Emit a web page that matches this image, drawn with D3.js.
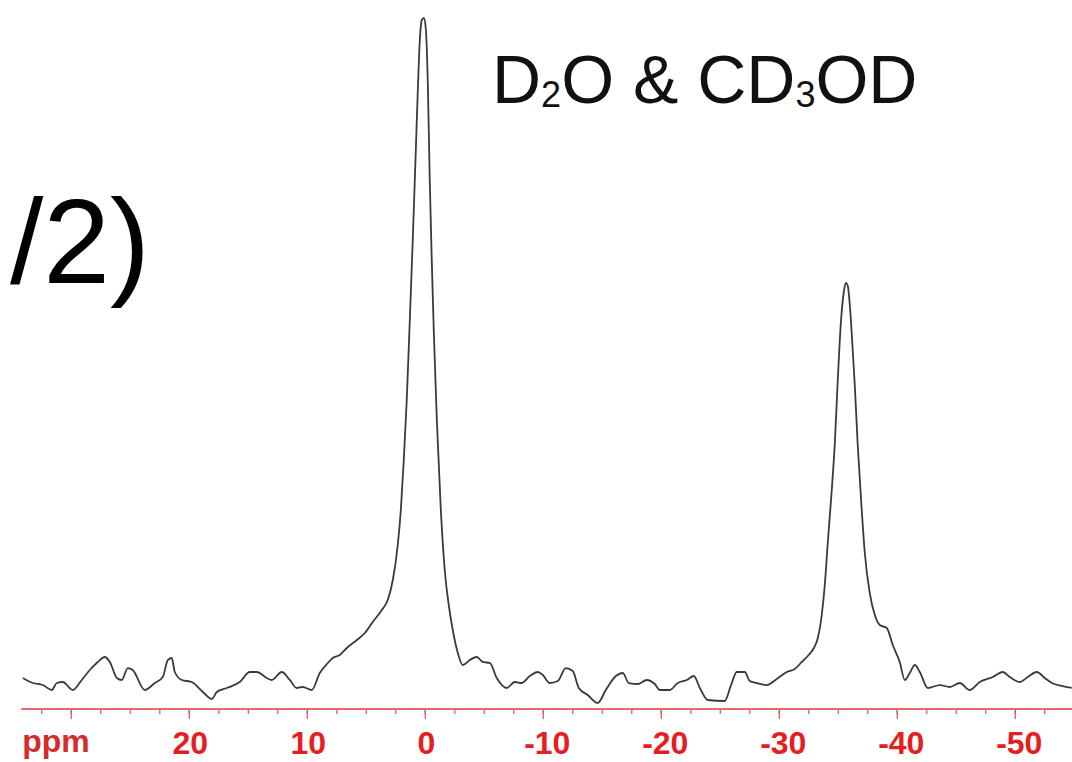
<!DOCTYPE html>
<html>
<head>
<meta charset="utf-8">
<script src="https://cdn.jsdelivr.net/npm/d3@7"></script>
<style>
    body { margin: 0; background: #fff; }
    svg { display: block; }
    .trace { fill: none; stroke: #3a3a3a; stroke-width: 1.8px; stroke-linejoin: round; }
    .axis text { font-family: "Liberation Sans", Arial, sans-serif; font-weight: bold; font-size: 32px; fill: #e3201f; }
    .axis line { stroke: #e25a5c; stroke-width: 1.3px; }
</style>
</head>
<body>
<script>
(function(){

    // chemical shift (ppm) and relative intensity
    var ppm = [34.07, 33.22, 32.37, 31.61, 31.19, 30.68, 29.83, 29.07, 28.39, 27.71,
        27.12, 26.69, 26.10, 25.68, 25.17, 24.75, 23.73, 22.88, 22.20, 21.78,
        21.44, 21.19, 20.59, 19.75, 18.81, 18.05, 17.63, 16.78, 15.68, 14.83,
        14.24, 13.39, 12.97, 12.12, 11.44, 10.85, 10.34, 9.58, 8.90, 8.22,
        7.80, 7.20, 6.61, 5.76, 5.08, 4.41, 3.64, 3.14, 2.71, 2.29,
        2.03, 1.78, 1.53, 1.27, 1.02, 0.76, 0.59, 0.42, 0.25, 0.08,
        -0.08, -0.25, -0.42, -0.59, -0.76, -1.02, -1.36, -1.69, -2.03, -2.37,
        -2.80, -3.22, -3.81, -4.41, -4.92, -5.51, -6.10, -6.95, -7.63, -8.22,
        -8.90, -9.58, -10.00, -10.59, -11.27, -11.95, -12.54, -13.05, -13.81, -14.66,
        -15.34, -16.19, -16.78, -17.29, -18.05, -18.81, -19.49, -19.92, -20.76, -21.44,
        -22.20, -22.80, -23.31, -23.98, -25.42, -25.93, -26.44, -27.12, -27.54, -28.14,
        -28.98, -29.83, -30.68, -31.36, -31.95, -32.46, -32.97, -33.31, -33.64, -33.90,
        -34.15, -34.49, -34.75, -35.00, -35.25, -35.51, -35.68, -35.85, -36.02, -36.19,
        -36.44, -36.69, -37.03, -37.29, -37.71, -38.14, -38.56, -39.15, -39.66, -40.25,
        -40.68, -41.10, -41.53, -41.95, -42.63, -43.64, -44.49, -45.34, -46.19, -47.03,
        -48.14, -48.98, -49.58, -50.42, -51.10, -51.86, -52.54, -53.14, -53.98, -54.83];

    var intensity = [1.79, 1.04, 0.74, 0, 1.04, 1.19, 0, 1.49, 2.98, 4.17,
        4.91, 4.17, 1.79, 1.49, 3.27, 2.98, 0, 1.04, 1.93, 4.46,
        4.76, 2.68, 1.49, 1.19, -0.30, -1.34, -0.30, 0.30, 1.19, 2.68,
        2.68, 1.79, 1.49, 2.68, 1.49, 0.30, 0.45, 0, 2.53, 4.02,
        4.76, 5.21, 6.25, 7.44, 8.48, 10.12, 11.90, 13.39, 16.37, 21.58,
        26.79, 34.23, 43.15, 55.06, 66.96, 80.36, 89.29, 96.73, 99.70, 100,
        98.51, 90.77, 75.89, 63.99, 53.57, 40.18, 26.79, 17.86, 12.65, 8.93,
        5.51, 3.72, 4.46, 4.91, 4.17, 4.02, 1.79, 0.30, 1.19, 1.04,
        2.08, 2.68, 2.23, 1.04, 1.34, 3.27, 2.83, 0.30, -0.74, -1.93,
        0, 2.08, 2.53, 1.04, 0.89, 1.49, 0.89, 0, 0, 1.04,
        1.49, 2.08, 0.30, -1.49, -1.64, 0.60, 2.68, 2.68, 1.34, 1.04,
        0.74, 1.64, 2.68, 3.13, 4.17, 5.06, 6.25, 7.74, 11.16, 15.63,
        21.88, 29.76, 36.76, 46.13, 54.32, 59.23, 60.57, 60.12, 57.29, 52.83,
        45.39, 36.46, 26.79, 20.39, 14.43, 11.16, 9.67, 9.23, 6.70, 4.17,
        1.49, 2.53, 3.72, 2.68, 0.30, 0.74, 0.45, 1.04, 0, 1.19,
        1.93, 2.68, 1.93, 1.19, 1.93, 2.68, 1.79, 1.04, 0.60, 0.30];

    var majorTicks = [30, 20, 10, 0, -10, -20, -30, -40, -50];
    var minorTicks = d3.range(32.5, -55.1, -2.5);
    var axisStart = 34.2;

    window.onload = setChart();

    function setChart(){

        var width = 1072,
            height = 762;

        var svg = d3.select("body")
            .append("svg")
            .attr("width", width)
            .attr("height", height);

        var x = d3.scaleLinear()
            .domain([36, -54.85])
            .range([0, width]);

        var y = d3.scaleLinear()
            .domain([0, 100])
            .range([690, 18]);

        var axisY = 709;

        setAxis(svg, x, axisY, width);
        setTrace(svg, x, y);
        setLabels(svg);
    };

    function setAxis(svg, x, axisY, width){

        var minorAxis = d3.axisBottom(x)
            .tickValues(minorTicks)
            .tickSize(5)
            .tickFormat("");

        var majorAxis = d3.axisBottom(x)
            .tickValues(majorTicks)
            .tickSize(10)
            .tickFormat(function(d){
                return d == 30 ? "" : String(d);
            });

        var gMinor = svg.append("g")
            .attr("class", "axis")
            .attr("transform", "translate(0," + axisY + ")")
            .call(minorAxis);

        var gMajor = svg.append("g")
            .attr("class", "axis")
            .attr("transform", "translate(0," + axisY + ")")
            .call(majorAxis);

        svg.selectAll(".axis .domain").remove();

        gMajor.selectAll("text")
            .attr("y", 45)
            .attr("dy", 0)
            .attr("dx", function(d){
                return d < 0 ? 4 : 1;
            });

        // main axis line
        svg.append("line")
            .attr("x1", x(axisStart))
            .attr("x2", width)
            .attr("y1", axisY)
            .attr("y2", axisY)
            .style("stroke", "#e8696b")
            .style("stroke-width", "2.2px");

        svg.append("text")
            .attr("x", x(axisStart) + 1)
            .attr("y", axisY + 43)
            .style("font-family", "'Liberation Sans', Arial, sans-serif")
            .style("font-weight", "bold")
            .style("font-size", "32px")
            .style("fill", "#d42b2b")
            .text("ppm");
    };

    function setTrace(svg, x, y){
        var points = ppm.map(function(d, i){
            return [d, intensity[i]];
        });

        var line = d3.line()
            .x(function(d){ return x(d[0]); })
            .y(function(d){ return y(d[1]); })
            .curve(d3.curveMonotoneX);

        svg.append("path")
            .datum(points)
            .attr("class", "trace")
            .attr("d", line);
    };

    function setLabels(svg){
        var solvent = svg.append("text")
            .attr("x", 492)
            .attr("y", 103)
            .style("font-family", "'Liberation Sans', Arial, Helvetica, sans-serif")
            .style("font-size", "68px")
            .style("fill", "#111");

        solvent.append("tspan").text("D");
        solvent.append("tspan").attr("dy", 4).style("font-size", "36px").text("2");
        solvent.append("tspan").attr("dy", -4).text("O & CD");
        solvent.append("tspan").attr("dy", 4).style("font-size", "36px").text("3");
        solvent.append("tspan").attr("dy", -4).text("OD");

        svg.append("text")
            .attr("x", 150)
            .attr("y", 283)
            .attr("text-anchor", "end")
            .style("font-family", "'Liberation Sans', Arial, Helvetica, sans-serif")
            .style("font-size", "120px")
            .style("fill", "#000")
            .text("/2)");
    };

})();
</script>
</body>
</html>
